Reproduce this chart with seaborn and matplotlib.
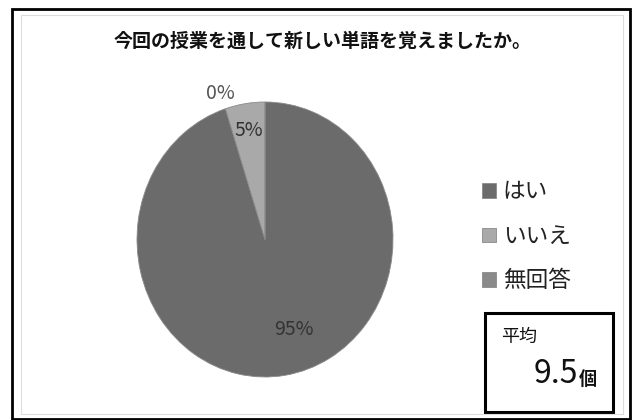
import numpy as np
import matplotlib
matplotlib.use("Agg")
import matplotlib.pyplot as plt
from matplotlib.patches import Rectangle
import seaborn as sns

# data
labels = ["はい", "いいえ", "無回答"]
shares = [95, 5, 0]
colors = ["#6b6b6b", "#a9a9a9", "#8a8a8a"]
title = "今回の授業を通して新しい単語を覚えましたか。"
avg_value = "9.5"
avg_unit = "個"

sns.set_theme(style="white")
plt.rcParams["font.family"] = ["Noto Sans CJK JP", "DejaVu Sans"]

W, H = 636, 420
fig = plt.figure(figsize=(W / 100, H / 100), dpi=100)
fig.patch.set_facecolor("white")


def px(x0, y0, x1, y1):
    """pixel box (top-left origin) -> figure fraction rect"""
    return [x0 / W, 1 - y1 / H, (x1 - x0) / W, (y1 - y0) / H]


# pie (the original is slightly stretched vertically)
ax = fig.add_axes(px(137, 102, 393, 377))
wedges, _, autotexts = ax.pie(
    shares, colors=colors, startangle=90, counterclock=False,
    autopct=lambda p: f"{p:.0f}%", pctdistance=0.7,
    wedgeprops=dict(linewidth=0.6, edgecolor="#8a8a8a"),
    textprops=dict(fontsize=14, color="#333333"),
)
ax.set_aspect("auto")
ax.set_xlim(-1, 1)
ax.set_ylim(-1, 1)
ax.axis("off")

# per-slice label placement, like Excel's best fit
label_dist = [0.69, 0.8, 1.12]
label_shift = [10, 0, 18]
for w, t, d, s in zip(wedges, autotexts, label_dist, label_shift):
    ang = np.deg2rad((w.theta1 + w.theta2) / 2 + s)
    t.set_position((d * np.cos(ang), d * np.sin(ang)))
autotexts[2].set_color("#555555")

fig.text(323 / W, 1 - 41 / H, title, ha="center", va="center",
         fontsize=13.7, fontweight="bold", color="#111111")

fig.legend(wedges, labels, loc="upper left",
           bbox_to_anchor=(462 / W, 1 - 160 / H), frameon=False,
           fontsize=16.3, handlelength=0.6, handleheight=0.6,
           handletextpad=0.3, labelspacing=0.95, labelcolor="#222222")

# average box
fig.patches.append(Rectangle(px(485, 313, 613, 412)[:2], 128 / W, 99 / H,
                             transform=fig.transFigure, fill=False,
                             edgecolor="black", linewidth=2.2))
fig.text(501 / W, 1 - 337 / H, "平均", ha="left", va="center",
         fontsize=13, color="#111111")
fig.text(578 / W, 1 - 374 / H, avg_value, ha="right", va="center",
         fontsize=23, color="#111111")
fig.text(579 / W, 1 - 379 / H, avg_unit, ha="left", va="center",
         fontsize=13, fontweight="bold", color="#111111")

# chart frame
fig.patches.append(Rectangle(px(21, 15, 623, 414)[:2], 602 / W, 399 / H,
                             transform=fig.transFigure, fill=False,
                             edgecolor="#dddddd", linewidth=0.8))
fig.patches.append(Rectangle(px(12, 9, 630, 419)[:2], 618 / W, 410 / H,
                             transform=fig.transFigure, fill=False,
                             edgecolor="black", linewidth=2.0))

fig.savefig("out.png", dpi=100, facecolor="white")
